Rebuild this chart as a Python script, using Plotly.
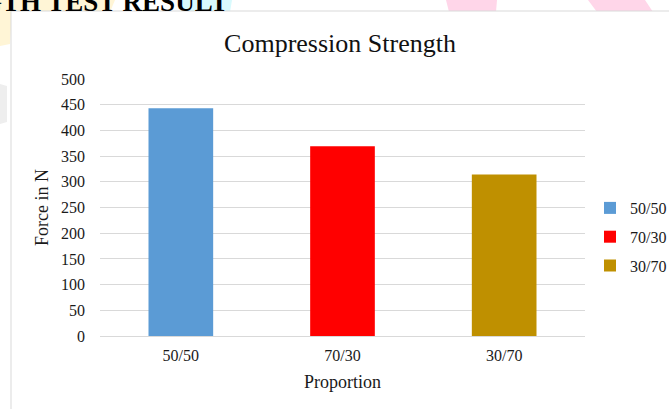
import plotly.graph_objects as go

# Compression strength per mix proportion
proportions = ["50/50", "70/30", "30/70"]
force_n = [443, 369, 314]
bar_colors = ["#5B9BD5", "#FF0000", "#BF9000"]

W, H = 669, 409
L, R, T, B = 100, 84, 79, 73
PW, PH = W - L - R, H - T - B


def px(x):
    return (x - L) / PW


def py(y):
    return (H - B - y) / PH


fig = go.Figure()
for name, val, col in zip(proportions, force_n, bar_colors):
    fig.add_trace(go.Bar(
        x=[name], y=[val], name=name, legendgroup=name, width=0.4,
        marker=dict(color=col, line=dict(width=0)),
    ))

serif = "Liberation Serif, Times New Roman, serif"
shapes = []


def poly(points, color):
    d = "M " + " L ".join(f"{px(a)},{py(b)}" for a, b in points) + " Z"
    shapes.append(dict(type="path", xref="paper", yref="paper", path=d,
                       fillcolor=color, line=dict(width=0), layer="below"))


# slide decorations behind the chart frame
poly([(0, 0), (115, 0), (110, 12), (12, 12), (10, 44), (0, 46)], "#FFF5D6")
poly([(0, 84), (7, 86), (7, 122), (0, 124)], "#EEEEEE")
poly([(179, 0), (232, 0), (230, 12), (181, 12)], "#D8FAFD")
poly([(446, 0), (497, 0), (496, 12), (449, 12)], "#FFD6E9")
poly([(588, 0), (645, 0), (653, 12), (597, 12)], "#FFD6E9")

# chart frame
shapes.append(dict(type="rect", xref="paper", yref="paper",
                   x0=px(11), x1=px(700), y0=py(440), y1=py(11),
                   fillcolor="white", line=dict(color="#D9D9D9", width=1),
                   layer="below"))

fig.update_layout(
    width=W, height=H,
    margin=dict(l=L, r=R, t=T, b=B, autoexpand=False),
    paper_bgcolor="white", plot_bgcolor="rgba(0,0,0,0)",
    barmode="overlay",
    font=dict(family=serif, size=16, color="#1a1a1a"),
    title=dict(text="Compression Strength", x=px(346.5), xanchor="center",
               y=1 - 43 / H, yanchor="middle",
               font=dict(family=serif, size=26, color="#111111")),
    xaxis=dict(title=dict(text="Proportion", standoff=12,
                          font=dict(family=serif, size=18)),
               showgrid=False, showline=False, ticks="",
               ticklabelstandoff=8,
               tickfont=dict(family=serif, size=16)),
    yaxis=dict(title=dict(text="Force in N", standoff=7,
                          font=dict(family=serif, size=18)),
               range=[0, 500], dtick=50, showgrid=True,
               gridcolor="#D9D9D9", gridwidth=1, zeroline=True,
               zerolinecolor="#D9D9D9", zerolinewidth=1,
               ticks="", ticklabelstandoff=14,
               tickfont=dict(family=serif, size=16)),
    legend=dict(x=px(590), y=py(191), xanchor="left", yanchor="top",
                font=dict(family=serif, size=16), itemwidth=30,
                tracegroupgap=5, bgcolor="rgba(0,0,0,0)"),
    shapes=shapes,
    annotations=[dict(text="<b>STRENGTH TEST RESULT</b>", showarrow=False,
                      xref="paper", yref="paper",
                      x=px(230), y=py(9), xanchor="right", yanchor="bottom",
                      yshift=-10,
                      font=dict(family=serif, size=27, color="black"))],
)

fig.write_html("out.html")
